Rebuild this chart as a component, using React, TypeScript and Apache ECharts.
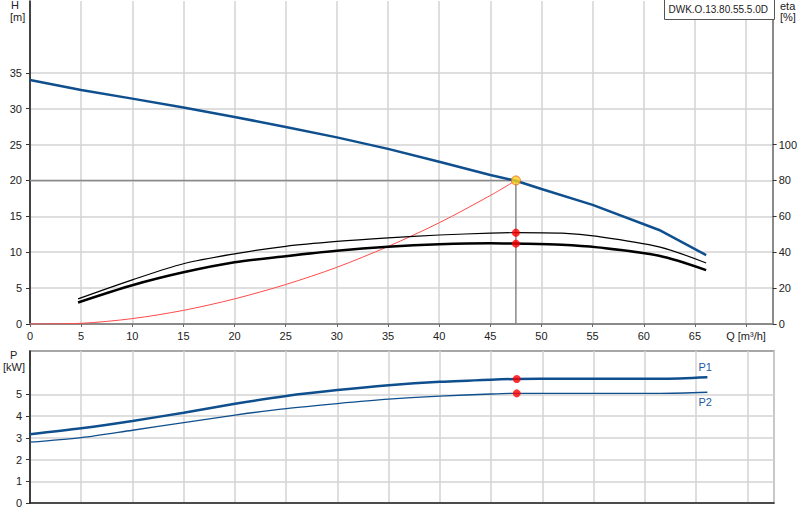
import React, { useEffect, useRef } from "react";
import * as echarts from "echarts";

// pump curve H(Q)
const headQ = [0, 5, 10, 15, 20, 25, 30, 35, 40, 45, 47.5, 50, 55, 61.5, 66.1];
const headH = [34.0, 32.6, 31.4, 30.15, 28.85, 27.45, 26.0, 24.4, 22.6, 20.75, 19.95, 18.8, 16.6, 13.1, 9.6];

// system curve
const sysQ = [0, 5, 10, 15, 20, 25, 30, 35, 40, 45, 47.5];
const sysH = [0, 0.1, 0.75, 1.9, 3.5, 5.5, 7.9, 10.8, 14.1, 17.9, 20.0];

// efficiency curves [%]
const etaQ = [4.7, 10, 15, 20, 25, 30, 35, 40, 45, 47.5, 52, 55.5, 61.5, 66.1];
const etaPump = [14, 24.6, 33.6, 39.1, 43.3, 46, 48, 49.6, 50.6, 50.9, 50.6, 48.8, 43, 34];
const etaTotal = [12, 21.6, 28.8, 34.4, 37.8, 40.8, 43, 44.4, 45, 44.8, 44.2, 42.7, 38, 30];

// power curves [kW]
const powerQ = [0, 5, 10, 15, 20, 25, 30, 35, 40, 45, 47.5, 52, 56.5, 61.5, 66.1];
const powerP1 = [3.17, 3.44, 3.78, 4.16, 4.57, 4.93, 5.2, 5.42, 5.58, 5.68, 5.71, 5.72, 5.72, 5.72, 5.79];
const powerP2 = [2.8, 3.01, 3.35, 3.7, 4.05, 4.35, 4.58, 4.78, 4.92, 5.02, 5.05, 5.05, 5.05, 5.05, 5.1];

// duty point
const dutyQ = 47.5;
const dutyH = 20;
const dutyEta = [50.9, 44.8];
const dutyP = [5.71, 5.05];

const qTicks = [0, 5, 10, 15, 20, 25, 30, 35, 40, 45, 50, 55, 60, 65, 70];
const hTicks = [0, 5, 10, 15, 20, 25, 30, 35];
const etaTicks = [0, 20, 40, 60, 80, 100];
const pTicks = [0, 1, 2, 3, 4, 5];

const zip = (xs: number[], ys: number[]) => xs.map((x, i) => [x, ys[i]]);

const FONT = "Liberation Sans, Arial, sans-serif";
const BLUE = "#0f4f8e";
const GRID = "#d3d3d3";

const App: React.FC = () => {
  const chartRef = useRef<HTMLDivElement>(null);

  useEffect(() => {
    if (!chartRef.current) return;
    const chart = echarts.init(chartRef.current, undefined, { renderer: "svg" });

    const labelStyle = { color: "#222", fontSize: 11, fontFamily: FONT };

    const option = {
      animation: false,
      backgroundColor: "#fff",
      textStyle: { fontFamily: FONT },
      grid: [
        { left: 30, right: 27, top: 1, height: 323 },
        {
          left: 30,
          right: 26,
          top: 351,
          height: 152,
          show: true,
          borderColor: "#8a8a8a",
          borderWidth: 1.5,
        },
      ],
      xAxis: [
        {
          type: "value",
          gridIndex: 0,
          min: 0,
          max: 72.6,
          interval: 5,
          axisLine: { show: true, lineStyle: { color: "#8a8a8a", width: 2 } },
          axisTick: { show: true, length: 3, customValues: qTicks, lineStyle: { color: "#666" } },
          axisLabel: {
            ...labelStyle,
            margin: 6,
            customValues: qTicks,
            formatter: (v: number) => (v === 70 ? "Q [m³/h]" : String(v)),
          },
          splitLine: { show: true, lineStyle: { color: GRID, width: 1.5 } },
        },
        {
          type: "value",
          gridIndex: 1,
          min: 0,
          max: 72.6,
          interval: 5,
          axisLine: { show: true, lineStyle: { color: "#222", width: 1.5 } },
          axisTick: { show: false },
          axisLabel: { show: false },
          splitLine: { show: true, lineStyle: { color: GRID, width: 1.5 } },
        },
      ],
      yAxis: [
        {
          type: "value",
          gridIndex: 0,
          min: 0,
          max: 45,
          interval: 5,
          axisLine: { show: true, lineStyle: { color: "#111", width: 1.5 } },
          axisTick: { show: true, length: 4, customValues: hTicks, lineStyle: { color: "#333" } },
          axisLabel: { ...labelStyle, margin: 8, customValues: hTicks },
          splitLine: { show: true, lineStyle: { color: GRID, width: 1.5 } },
        },
        {
          type: "value",
          gridIndex: 0,
          position: "right",
          min: 0,
          max: 180,
          interval: 20,
          axisLine: { show: true, lineStyle: { color: "#8a8a8a", width: 2 } },
          axisTick: { show: true, length: 4, customValues: etaTicks, lineStyle: { color: "#333" } },
          axisLabel: { ...labelStyle, margin: 6, customValues: etaTicks },
          splitLine: { show: false },
        },
        {
          type: "value",
          gridIndex: 1,
          min: 0,
          max: 7,
          interval: 1,
          axisLine: { show: true, lineStyle: { color: "#111", width: 1.5 } },
          axisTick: { show: true, length: 4, customValues: pTicks, lineStyle: { color: "#333" } },
          axisLabel: { ...labelStyle, margin: 8, customValues: pTicks },
          splitLine: { show: true, lineStyle: { color: GRID, width: 1.5 } },
        },
      ],
      graphic: [
        { type: "text", left: 11, top: -1, style: { text: "H", font: `11px ${FONT}`, fill: "#222" } },
        { type: "text", left: 10, top: 11, style: { text: "[m]", font: `11px ${FONT}`, fill: "#222" } },
        { type: "text", left: 780, top: 0, style: { text: "eta", font: `11px ${FONT}`, fill: "#222" } },
        { type: "text", left: 780, top: 11, style: { text: "[%]", font: `11px ${FONT}`, fill: "#222" } },
        { type: "text", left: 10, top: 349, style: { text: "P", font: `11px ${FONT}`, fill: "#222" } },
        { type: "text", left: 3, top: 361, style: { text: "[kW]", font: `11px ${FONT}`, fill: "#222" } },
        {
          type: "group",
          left: 664,
          top: -1,
          z: 100,
          children: [
            {
              type: "rect",
              z: 100,
              shape: { x: 0, y: 0, width: 110, height: 20 },
              style: { fill: "#fff", stroke: "#555", lineWidth: 1 },
            },
            {
              type: "text",
              z: 101,
              x: 4,
              y: 5,
              style: { text: "DWK.O.13.80.55.5.0D", font: `10px ${FONT}`, fill: "#222" },
            },
          ],
        },
      ],
      series: [
        {
          name: "duty",
          type: "line",
          xAxisIndex: 0,
          yAxisIndex: 0,
          data: [
            [0, dutyH],
            [dutyQ, dutyH],
            [dutyQ, 0],
          ],
          showSymbol: false,
          lineStyle: { color: "#888", width: 1.5 },
          z: 1,
        },
        {
          name: "H",
          type: "line",
          xAxisIndex: 0,
          yAxisIndex: 0,
          data: zip(headQ, headH),
          showSymbol: false,
          smooth: false,
          lineStyle: { color: BLUE, width: 2.5 },
          z: 3,
        },
        {
          name: "system",
          type: "line",
          xAxisIndex: 0,
          yAxisIndex: 0,
          data: zip(sysQ, sysH),
          showSymbol: false,
          smooth: 0.3,
          lineStyle: { color: "#ff4a4a", width: 1 },
          z: 2,
        },
        {
          name: "eta pump",
          type: "line",
          xAxisIndex: 0,
          yAxisIndex: 1,
          data: zip(etaQ, etaPump),
          showSymbol: false,
          smooth: 0.3,
          lineStyle: { color: "#000", width: 1.2 },
          z: 3,
        },
        {
          name: "eta total",
          type: "line",
          xAxisIndex: 0,
          yAxisIndex: 1,
          data: zip(etaQ, etaTotal),
          showSymbol: false,
          smooth: 0.3,
          lineStyle: { color: "#000", width: 2.5 },
          z: 3,
        },
        {
          name: "eta duty",
          type: "scatter",
          xAxisIndex: 0,
          yAxisIndex: 1,
          data: dutyEta.map((v) => [dutyQ, v]),
          symbolSize: 8,
          itemStyle: { color: "#ff0000" },
          z: 5,
        },
        {
          name: "duty point",
          type: "scatter",
          xAxisIndex: 0,
          yAxisIndex: 0,
          data: [[dutyQ, dutyH]],
          symbolSize: 9,
          itemStyle: { color: "#ffd21a", borderColor: "#e8601a", borderWidth: 1 },
          z: 6,
        },
        {
          name: "P1",
          type: "line",
          xAxisIndex: 1,
          yAxisIndex: 2,
          data: zip(powerQ, powerP1),
          showSymbol: false,
          smooth: 0.3,
          lineStyle: { color: BLUE, width: 2.5 },
          endLabel: {
            show: true,
            formatter: "P1",
            color: "#1a5aa0",
            fontSize: 11,
            fontFamily: FONT,
            offset: [-17, -10],
          },
          z: 3,
        },
        {
          name: "P2",
          type: "line",
          xAxisIndex: 1,
          yAxisIndex: 2,
          data: zip(powerQ, powerP2),
          showSymbol: false,
          smooth: 0.3,
          lineStyle: { color: BLUE, width: 1.3 },
          endLabel: {
            show: true,
            formatter: "P2",
            color: "#1a5aa0",
            fontSize: 11,
            fontFamily: FONT,
            offset: [-17, 10],
          },
          z: 3,
        },
        {
          name: "P duty",
          type: "scatter",
          xAxisIndex: 1,
          yAxisIndex: 2,
          data: dutyP.map((v) => [dutyQ, v]),
          symbolSize: 8,
          itemStyle: { color: "#ff0000" },
          z: 5,
        },
      ],
    };

    chart.setOption(option);

    return () => {
      chart.dispose();
    };
  }, []);

  return (
    <div
      ref={chartRef}
      style={{ position: "absolute", left: 0, top: 0, width: 800, height: 520 }}
    />
  );
};

export default App;
